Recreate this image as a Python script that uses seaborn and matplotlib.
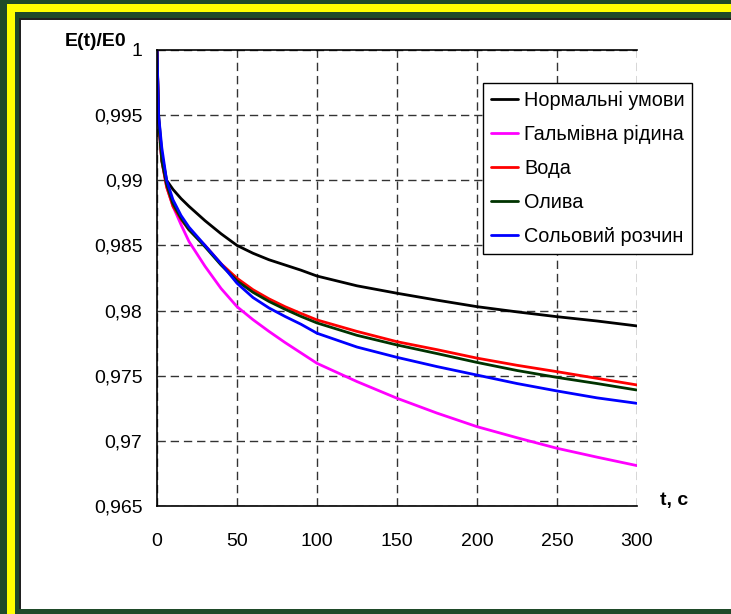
import matplotlib
matplotlib.use('Agg')
import matplotlib.pyplot as plt
from matplotlib.patches import Rectangle
import numpy as np
import pandas as pd
import seaborn as sns

# Data
t = [0, 1, 3, 6, 10, 15, 20, 30, 40, 50, 60, 70, 80, 90, 100,
     125, 150, 175, 200, 225, 250, 275, 300]
normal = [1.0, 0.9950, 0.9920, 0.9900, 0.9893, 0.9886, 0.9880, 0.9869, 0.9859, 0.9850,
          0.9844, 0.9839, 0.9835, 0.9831, 0.98265, 0.9819, 0.98133, 0.9808, 0.9803,
          0.9799, 0.97953, 0.9792, 0.97882]
brake = [1.0, 0.9945, 0.9915, 0.9895, 0.9880, 0.9866, 0.9853, 0.9834, 0.9817, 0.9803,
         0.9793, 0.9784, 0.97755, 0.97675, 0.97595, 0.97455, 0.97327, 0.97213, 0.97109,
         0.97024, 0.96943, 0.96875, 0.9681]
water = [1.0, 0.9945, 0.9915, 0.9895, 0.9880, 0.9870, 0.9862, 0.9850, 0.9836, 0.98248,
         0.9816, 0.9809, 0.9803, 0.97978, 0.97928, 0.9784, 0.97761, 0.9770, 0.97635,
         0.9758, 0.97531, 0.9748, 0.97429]
oil = [1.0, 0.9945, 0.9915, 0.9897, 0.9882, 0.9871, 0.9862, 0.9849, 0.9835, 0.98228,
       0.9814, 0.9807, 0.9801, 0.97955, 0.97905, 0.9781, 0.97736, 0.9767, 0.97602,
       0.9754, 0.97487, 0.9744, 0.9739]
salt = [1.0, 0.9950, 0.9925, 0.9900, 0.9885, 0.9873, 0.9864, 0.9850, 0.9836, 0.9821,
        0.9810, 0.9802, 0.97955, 0.97895, 0.97826, 0.9772, 0.97641, 0.9757, 0.97505,
        0.9744, 0.97383, 0.9733, 0.97288]

series_names = ['Нормальні умови', 'Гальмівна рідина', 'Вода', 'Олива', 'Сольовий розчин']
series_colors = ['#000000', '#FF00FF', '#FF0000', '#003300', '#0000FF']

x_ticks = [0, 50, 100, 150, 200, 250, 300]
y_ticks = [0.965, 0.97, 0.975, 0.98, 0.985, 0.99, 0.995, 1.0]
y_ticklabels = ['0,965', '0,97', '0,975', '0,98', '0,985', '0,99', '0,995', '1']

df = pd.DataFrame({'t': t * 5,
                   'value': normal + brake + water + oil + salt,
                   'series': [n for n in series_names for _ in t]})

sns.set_style('white')
plt.rcParams['font.family'] = ['Liberation Sans', 'DejaVu Sans']
plt.rcParams['text.color'] = 'black'

W, H = 731, 614
fig = plt.figure(figsize=(W / 100, H / 100), dpi=100)
fig.patch.set_facecolor('#1f4a29')

def px_rect(x0, y0, x1, y1, **kw):
    # rectangle in pixel coords (origin top-left)
    fig.patches.append(Rectangle((x0 / W, 1 - y1 / H), (x1 - x0) / W, (y1 - y0) / H,
                                 transform=fig.transFigure, figure=fig, zorder=-5, **kw))

# yellow frame and white panel
px_rect(7, 4, W + 5, 12, facecolor='#FFFF00', edgecolor='none')
px_rect(7, 4, 15, H + 5, facecolor='#FFFF00', edgecolor='none')
px_rect(19, 18, W + 5, 609, facecolor='#202020', edgecolor='none')
px_rect(20.5, 19.5, W + 5, 609, facecolor='white', edgecolor='none')

ax = fig.add_axes([157 / W, 1 - 506 / H, 480 / W, 456 / H])
ax.set_facecolor('none')

sns.lineplot(data=df, x='t', y='value', hue='series', hue_order=series_names,
             palette=series_colors, linewidth=2, ax=ax, legend=False)

ax.set_xlim(0, 300)
ax.set_ylim(0.965, 1.0)
ax.set_xticks(x_ticks)
ax.set_yticks(y_ticks)
ax.set_yticklabels(y_ticklabels)
ax.set_xlabel('')
ax.set_ylabel('')
ax.grid(True, color='#333333', linestyle=(0, (6, 3.5)), linewidth=1)
ax.tick_params(axis='both', labelsize=14, labelcolor='black', direction='out')
ax.tick_params(axis='y', length=4, width=1, color='#404040', pad=6.5)
ax.tick_params(axis='x', length=5, width=1, color='#666666', pad=14.5)

for side in ['left', 'bottom', 'top']:
    ax.spines[side].set_visible(True)
    ax.spines[side].set_color('black')
    ax.spines[side].set_linewidth(1.2)
ax.spines['right'].set_visible(False)

fig.text(96 / W, 1 - 42 / H, 'E(t)/E0', fontsize=14, fontweight='bold',
         ha='center', va='center', color='black')
fig.text(674 / W, 1 - 501 / H, 't, c', fontsize=14, fontweight='bold',
         ha='center', va='center', color='black')

handles = [plt.Line2D([], [], color=c, linewidth=2) for c in series_colors]
leg = ax.legend(handles, series_names, loc='upper left',
                bbox_to_anchor=(483 / W, 1 - 83 / H), bbox_transform=fig.transFigure,
                borderaxespad=0, fontsize=14.3, frameon=True, fancybox=False,
                edgecolor='black', framealpha=1, handlelength=1.36, handletextpad=0.3,
                labelspacing=0.76, borderpad=0.4)
leg.get_frame().set_linewidth(1)
for txt in leg.get_texts():
    txt.set_color('black')

fig.savefig('out.png', dpi=100, facecolor=fig.get_facecolor())
